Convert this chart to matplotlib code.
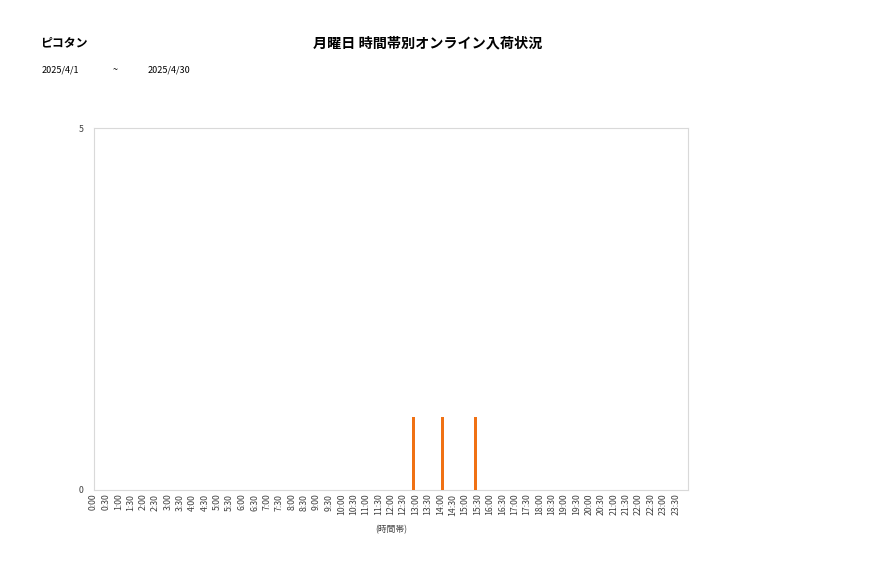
import matplotlib
matplotlib.use("Agg")
import matplotlib.pyplot as plt

plt.rcParams['font.family'] = ['Noto Sans CJK JP', 'DejaVu Sans']

# Data
shop_name = "ピコタン"
chart_title = "月曜日 時間帯別オンライン入荷状況"
date_from = "2025/4/1"
date_to = "2025/4/30"
arrival_times = ["12:55", "14:05", "15:26"]
arrival_counts = [1, 1, 1]
tick_labels = [f"{h}:{m:02d}" for h in range(24) for m in (0, 30)]
y_ticks = [0, 5]
x_label = "(時間帯)"

def to_hours(s):
    h, m = s.split(":")
    return int(h) + int(m) / 60.0

fig = plt.figure(figsize=(8.77, 5.78), dpi=100)
ax = fig.add_axes([93.5 / 877, (578 - 489.5) / 578, 594.5 / 877, 361.5 / 578])

xs = [to_hours(t) for t in arrival_times]
ax.bar(xs, arrival_counts, width=0.12, color="#F07114", align="center", zorder=3)

ax.set_xlim(0, 24)
ax.set_ylim(0, 5)
ax.set_xticks([i * 0.5 for i in range(len(tick_labels))])
ax.set_xticklabels(tick_labels, rotation=90, fontsize=6.3, color="#404040")
ax.set_yticks(y_ticks)
ax.set_yticklabels([str(v) for v in y_ticks], fontsize=6.3, color="#404040")
ax.tick_params(axis="both", length=0, pad=3)
ax.tick_params(axis="y", pad=7)
for sp in ax.spines.values():
    sp.set_color("#d9d9d9")
    sp.set_linewidth(0.8)
ax.set_xlabel(x_label, fontsize=6.3, color="#404040", labelpad=7)

fig.text(40 / 877, 1 - 43 / 578, shop_name, fontsize=8.6, fontweight="bold", va="center", ha="left", color="#000000")
fig.text(428 / 877, 1 - 43 / 578, chart_title, fontsize=10.2, fontweight="bold", va="center", ha="center", color="#000000")
fig.text(42 / 877, 1 - 70 / 578, date_from, fontsize=6.5, va="center", ha="left", color="#000000")
fig.text(115 / 877, 1 - 70 / 578, "~", fontsize=6.5, va="center", ha="center", color="#000000")
fig.text(148 / 877, 1 - 70 / 578, date_to, fontsize=6.5, va="center", ha="left", color="#000000")

fig.savefig("out.png", dpi=100, facecolor="white")
